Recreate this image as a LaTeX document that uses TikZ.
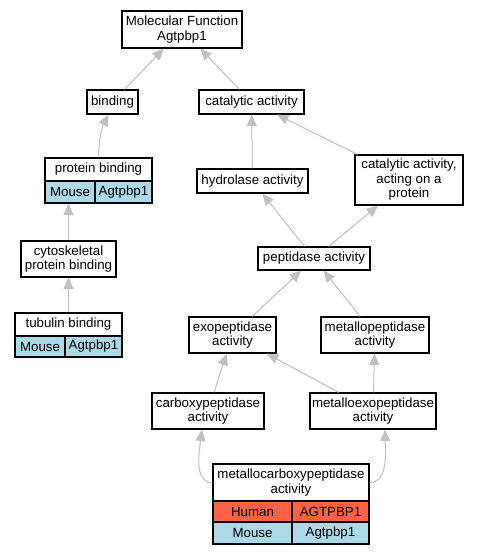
\documentclass[tikz,border=0pt]{standalone}
\usepackage{fontspec}
\setmainfont{Liberation Sans}
\usetikzlibrary{arrows.meta,calc}
\definecolor{edgegray}{HTML}{C0C0C0}
\definecolor{mouseblue}{HTML}{ADD8E6}
\definecolor{humanred}{HTML}{FF6347}
\begin{document}
\begin{tikzpicture}[x=1pt,y=-1pt,
 box/.style={draw=black, line width=1.2pt, fill=white, inner sep=0pt, align=center,
   font=\fontsize{13.3}{14.5}\selectfont},
 mousecell/.style={box, fill=mouseblue},
 humancell/.style={box, fill=humanred},
 edge/.style={draw=edgegray, line width=1pt, -{Triangle[length=11.5pt,width=10pt]}}]
\useasboundingbox (0,0) rectangle (479,555);
\node[box, minimum width=120pt, minimum height=37pt] (mf) at (182,29.5) {Molecular Function\\Agtpbp1};
\node[box, minimum width=51pt, minimum height=24pt] (binding) at (112.5,102) {binding};
\node[box, minimum width=105pt, minimum height=24pt] (cat) at (251.5,102) {catalytic activity};
\node[box, minimum width=107pt, minimum height=23pt] (pbh) at (98.5,169.5) {protein binding};
\node[mousecell, minimum width=50pt, minimum height=22pt] (pbm) at (70,192) {Mouse};
\node[mousecell, minimum width=57pt, minimum height=22pt] (pba) at (123.5,192) {Agtpbp1};
\node[box, minimum width=111pt, minimum height=24pt] (hyd) at (252.5,181) {hydrolase activity};
\node[box, minimum width=108pt, minimum height=50pt] (cap) at (409,180) {catalytic activity,\\acting on a\\protein};
\node[box, minimum width=95pt, minimum height=36pt] (cyto) at (68.5,259) {cytoskeletal\\protein binding};
\node[box, minimum width=112pt, minimum height=23pt] (pep) at (314,258.5) {peptidase activity};
\node[box, minimum width=107pt, minimum height=23pt] (tubh) at (68.5,324.5) {tubulin binding};
\node[mousecell, minimum width=50pt, minimum height=21pt] (tubm) at (40,346.5) {Mouse};
\node[mousecell, minimum width=57pt, minimum height=21pt] (tuba) at (93.5,346.5) {Agtpbp1};
\node[box, minimum width=87pt, minimum height=36pt] (exo) at (232.5,335) {exopeptidase\\activity};
\node[box, minimum width=108pt, minimum height=36pt] (mp) at (375,335) {metallopeptidase\\activity};
\node[box, minimum width=112pt, minimum height=36pt] (carb) at (208,411) {carboxypeptidase\\activity};
\node[box, minimum width=126pt, minimum height=36pt] (mex) at (373,411) {metalloexopeptidase\\activity};
\node[box, minimum width=156pt, minimum height=37pt] (mch) at (291,482.5) {metallocarboxypeptidase\\activity};
\node[humancell, minimum width=79pt, minimum height=21pt] (mchh) at (252.5,511.5) {Human};
\node[humancell, minimum width=77pt, minimum height=21pt] (mcha) at (330.5,511.5) {AGTPBP1};
\node[mousecell, minimum width=79pt, minimum height=22pt] (mcmm) at (252.5,533) {Mouse};
\node[mousecell, minimum width=77pt, minimum height=22pt] (mcma) at (330.5,533) {Agtpbp1};
\draw[edge] (binding) -- (mf);
\draw[edge] (cat) -- (mf);
\draw[edge] (pbh.north) .. controls (99,135) and (103,125) .. ($(binding.south)+(-4,0)$);
\draw[edge] (hyd) -- (cat);
\draw[edge] (cap) -- (cat);
\draw[edge] (pep) -- (hyd);
\draw[edge] (pep) -- (cap);
\draw[edge] (cyto.north) -- (cyto.north |- pbm.south);
\draw[edge] (tubh) -- (cyto);
\draw[edge] (exo) -- (pep);
\draw[edge] (mp) -- (pep);
\draw[edge] (carb) -- (exo);
\draw[edge] (mex) -- (exo);
\draw[edge] (mex) -- (mp);
\draw[edge] (mch.west) .. controls (196,482.5) and (198,460) .. ($(carb.south)+(-6,0)$);
\draw[edge] (mch.east) .. controls (386,482.5) and (386,460) .. ($(mex.south)+(12,0)$);
\end{tikzpicture}
\end{document}
